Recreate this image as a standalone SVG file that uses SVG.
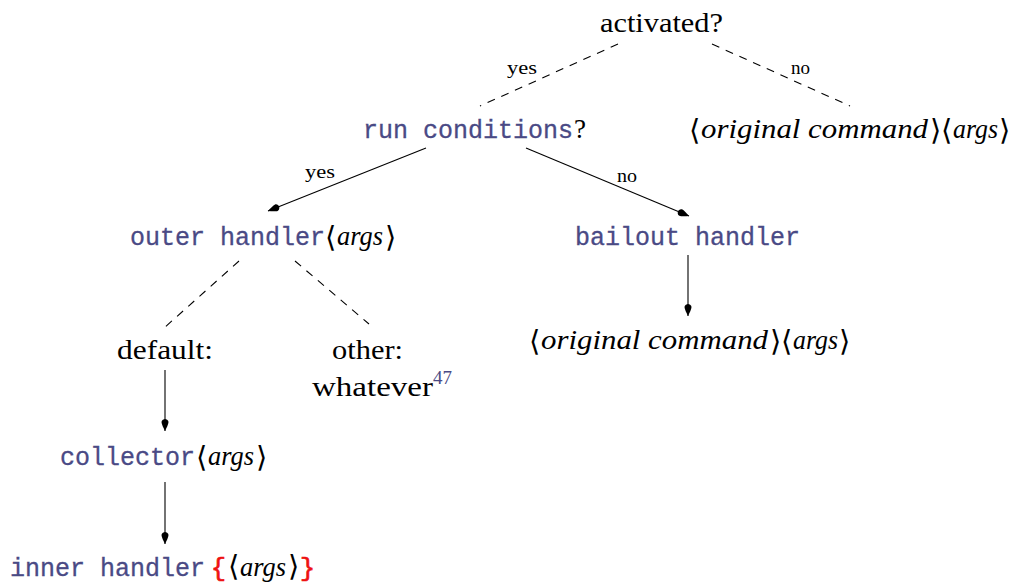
<svg xmlns="http://www.w3.org/2000/svg" width="1015" height="583" viewBox="0 0 1015 583">
<style>
.s{font-family:"Liberation Serif","DejaVu Serif",serif;font-size:27px;fill:#000}
.i{font-family:"Liberation Serif","DejaVu Serif",serif;font-style:italic;font-size:27px;fill:#000}
.b{font-family:"DejaVu Sans","Liberation Serif",serif;font-size:29px;fill:#000}
.m{font-family:"Liberation Mono","DejaVu Sans Mono",monospace;font-size:25px;fill:#4a4a85;stroke:#4a4a85;stroke-width:0.3}
.r{font-family:"Liberation Mono","DejaVu Sans Mono",monospace;font-size:25px;fill:#ee1111;stroke:#ee1111;stroke-width:0.7}
.l{font-family:"Liberation Serif","DejaVu Serif",serif;font-size:19px;fill:#000}
.sup{font-family:"Liberation Serif","DejaVu Serif",serif;font-size:19px;fill:#4a4a85}
.d{fill:none;stroke:#000;stroke-width:1.1;stroke-dasharray:8 7}
.a{fill:none;stroke:#000;stroke-width:1.1;marker-end:url(#tip)}
</style>
<defs>
<marker id="tip" viewBox="-12 -4 12 8" refX="0" refY="0" markerWidth="12" markerHeight="8" markerUnits="userSpaceOnUse" orient="auto">
<path d="M0,0 C-3,-1.5 -7,-3.5 -9,-3.5 C-11,-3.5 -12,-1 -12,0 C-12,1 -11,3.5 -9,3.5 C-7,3.5 -3,1.5 0,0 Z" fill="#000"/>
</marker>
</defs>
<rect width="1015" height="583" fill="#fff"/>
<g id="connectors">
<line class="d" x1="618" y1="44" x2="480" y2="106"/>
<line class="d" x1="712" y1="44" x2="850" y2="106"/>
<line class="a" x1="426" y1="148" x2="268" y2="211"/>
<line class="a" x1="526" y1="148" x2="689" y2="216"/>
<line class="a" x1="688" y1="255" x2="688" y2="316"/>
<line class="d" x1="239" y1="261" x2="164" y2="328"/>
<line class="d" x1="295" y1="261" x2="369" y2="324"/>
<line class="a" x1="165" y1="370" x2="165" y2="431"/>
<line class="a" x1="165" y1="482" x2="165" y2="544"/>
<text class="l" x="507" y="74" textLength="30" lengthAdjust="spacingAndGlyphs">yes</text>
<text class="l" x="791" y="74" textLength="19" lengthAdjust="spacingAndGlyphs">no</text>
<text class="l" x="305" y="178" textLength="30" lengthAdjust="spacingAndGlyphs">yes</text>
<text class="l" x="617" y="182" textLength="20" lengthAdjust="spacingAndGlyphs">no</text>
</g>
<g id="activated">
<text class="s" x="600" y="32" textLength="123" lengthAdjust="spacingAndGlyphs">activated?</text>
</g>
<g id="run-conditions">
<text class="m" x="363" y="138">run conditions</text>
<text class="s" x="574" y="138">?</text>
</g>
<g id="original-command-1">
<text class="b" x="689" y="140">⟨</text>
<text class="i" x="701" y="138" textLength="227" lengthAdjust="spacingAndGlyphs">original command</text>
<text class="b" x="930" y="140">⟩</text>
<text class="b" x="941" y="140">⟨</text>
<text class="i" x="953" y="138" textLength="45" lengthAdjust="spacingAndGlyphs">args</text>
<text class="b" x="999" y="140">⟩</text>
</g>
<g id="outer-handler">
<text class="m" x="130" y="245">outer handler</text>
<text class="b" x="325" y="247">⟨</text>
<text class="i" x="337" y="245" textLength="46" lengthAdjust="spacingAndGlyphs">args</text>
<text class="b" x="385" y="247">⟩</text>
</g>
<g id="bailout-handler">
<text class="m" x="575" y="245">bailout handler</text>
</g>
<g id="original-command-2">
<text class="b" x="529" y="351">⟨</text>
<text class="i" x="541" y="349" textLength="227" lengthAdjust="spacingAndGlyphs">original command</text>
<text class="b" x="770" y="351">⟩</text>
<text class="b" x="781" y="351">⟨</text>
<text class="i" x="793" y="349" textLength="45" lengthAdjust="spacingAndGlyphs">args</text>
<text class="b" x="839" y="351">⟩</text>
</g>
<g id="default">
<text class="s" x="117" y="359" textLength="96" lengthAdjust="spacingAndGlyphs">default:</text>
</g>
<g id="other">
<text class="s" x="332" y="359" textLength="71" lengthAdjust="spacingAndGlyphs">other:</text>
<text class="s" x="312" y="396" textLength="121" lengthAdjust="spacingAndGlyphs">whatever</text>
<text class="sup" x="433" y="384">47</text>
</g>
<g id="collector">
<text class="m" x="60" y="465">collector</text>
<text class="b" x="196" y="467">⟨</text>
<text class="i" x="208" y="465" textLength="46" lengthAdjust="spacingAndGlyphs">args</text>
<text class="b" x="256" y="467">⟩</text>
</g>
<g id="inner-handler">
<text class="m" x="10" y="576">inner handler</text>
<text class="r" x="211" y="576">{</text>
<text class="b" x="228" y="576" font-size="27">⟨</text>
<text class="i" x="240" y="576" textLength="46" lengthAdjust="spacingAndGlyphs">args</text>
<text class="b" x="288" y="576" font-size="27">⟩</text>
<text class="r" x="300" y="576">}</text>
</g>
</svg>
